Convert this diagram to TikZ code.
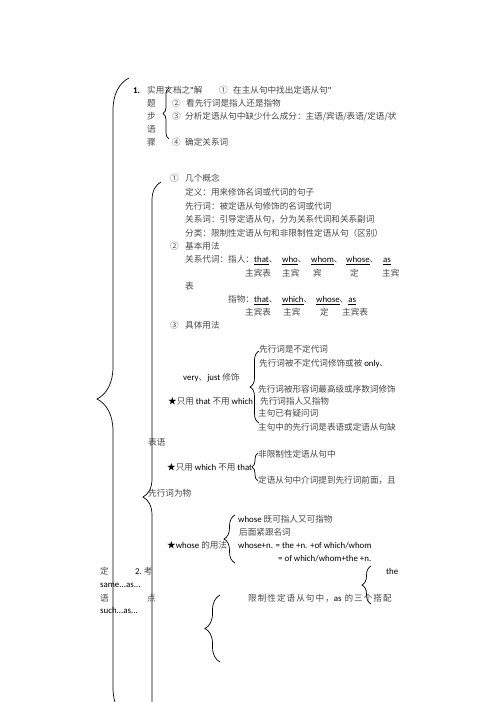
\documentclass[tikz,border=0pt]{standalone}
\usepackage{fontspec}
\setmainfont{Noto Sans CJK SC}
\newfontfamily\lat{Carlito}[Scale=1.03]
\usetikzlibrary{decorations.pathreplacing}
\newcommand\En[1]{{\lat\color{black}#1}}
\newcommand\Bk[1]{{\color{black}#1}}
\begin{document}
\begin{tikzpicture}[x=1pt,y=-1pt,
  t/.style={inner sep=0pt, anchor=base west, yshift=-3.3pt, font=\fontsize{8.6}{10}\selectfont, text=black!72},
  br/.style={decorate, decoration={brace, amplitude=#1}, line width=0.7pt, draw=black}]
\useasboundingbox (0,0) rectangle (496,702);
\clip (0,0) rectangle (496,702);
% braces
\coordinate (o1) at (129,720); \coordinate (o2) at (129,78);
\draw[br=32] (o1) -- (o2);
\coordinate (i1) at (161,812); \coordinate (i2) at (161,182);
\draw[br=18] (i1) -- (i2);
\coordinate (b1a) at (169,139); \coordinate (b1b) at (169,88);
\draw[br=6] (b1a) -- (b1b);
\coordinate (b2a) at (259,423); \coordinate (b2b) at (259,351);
\draw[br=9] (b2a) -- (b2b);
\coordinate (b3a) at (258,481); \coordinate (b3b) at (258,453);
\draw[br=6] (b3a) -- (b3b);
\coordinate (b4a) at (235,563); \coordinate (b4b) at (235,515);
\draw[br=11] (b4a) -- (b4b);
\coordinate (b5a) at (371,604); \coordinate (b5b) at (371,566);
\draw[br=9] (b5a) -- (b5b);
\coordinate (b6a) at (220,662); \coordinate (b6b) at (220,595);
\draw[br=15] (b6a) -- (b6b);
% section 1
\node[t] (n1) at (133,90) {\En{\textbf{1.}}};
\node[t] (n1a) at (147,90) {实用文档之\En{"}解};
\node[t] (n1b) at (219,90) {①};
\node[t] (n1c) at (233,90) {在主从句中找出定语从句\En{"}};
\node[t] (n2) at (147,103) {题};
\node[t] (n2a) at (172,103) {②};
\node[t] (n2b) at (186,103) {看先行词是指人还是指物};
\node[t] (n3) at (147,116) {步};
\node[t] (n3a) at (172,116) {③};
\node[t] (n3b) at (185,116) {分析定语从句中缺少什么成分：主语/宾语/表语/定语/状};
\node[t] (n4) at (147,129) {语};
\node[t] (n5) at (147,142) {骤};
\node[t] (n5a) at (172,142) {④};
\node[t] (n5b) at (185,142) {确定关系词};
% section 2
\node[t] (m1) at (170,178) {①};
\node[t] (m1a) at (185,178) {几个概念};
\node[t] (m2) at (185,192) {定义：用来修饰名词或代词的句子};
\node[t] (m3) at (185,206) {先行词：被定语从句修饰的名词或代词};
\node[t] (m4) at (185,219) {关系词：引导定语从句，分为关系代词和关系副词};
\node[t] (m5) at (185,233) {分类：限制性定语从句和非限制性定语从句（区别）};
\node[t] (m6) at (170,246) {②};
\node[t] (m6a) at (185,246) {基本用法};
\node[t] (m7) at (185,259) {关系代词：指人：};
\node[t] (m7a) at (254,259) {\En{\underline{that}}、};
\node[t] (m7b) at (282,259) {\En{\underline{who}}、};
\node[t] (m7c) at (311,259) {\En{\underline{whom}}、};
\node[t] (m7d) at (346,259) {\En{\underline{whose}}、};
\node[t] (m7e) at (383,259) {\En{\underline{as}}};
\node[t] (m8a) at (245,273) {主宾表};
\node[t] (m8b) at (282,273) {主宾};
\node[t] (m8c) at (313,273) {宾};
\node[t] (m8d) at (350,273) {定};
\node[t] (m8e) at (382,273) {主宾};
\node[t] (m9) at (185,286) {表};
\node[t] (m10) at (228,299) {指物：};
\node[t] (m10a) at (254,299) {\En{\underline{that}}、};
\node[t] (m10b) at (282,299) {\En{\underline{which}}、};
\node[t] (m10c) at (316,299) {\En{\underline{whose}}、\En{\underline{as}}};
\node[t] (m11a) at (245,312) {主宾表};
\node[t] (m11b) at (283,312) {主宾};
\node[t] (m11c) at (320,312) {定};
\node[t] (m11d) at (342,312) {主宾表};
\node[t] (m12) at (170,325) {③};
\node[t] (m12a) at (185,325) {具体用法};
% section 3
\node[t] (p1) at (259,349) {先行词是不定代词};
\node[t] (p2) at (259,363) {先行词被不定代词修饰或被\ \En{only}、};
\node[t] (p3) at (183,377) {\En{very}、\En{just} 修饰};
\node[t] (p4) at (258,389) {先行词被形容词最高级或序数词修饰};
\node[t] (p5) at (168,401) {\Bk{★}只用 \En{that} 不用 \En{which}};
\node[t] (p6) at (260,401) {先行词指人又指物};
\node[t] (p7) at (258,413) {主句已有疑问词};
\node[t] (p8) at (258,427) {主句中的先行词是表语或定语从句缺};
\node[t] (p9) at (148,442) {表语};
\node[t] (p10) at (258,454) {非限制性定语从句中};
\node[t] (p11) at (167,467) {\Bk{★}只用 \En{which} 不用 \En{that}};
\node[t] (p12) at (258,480) {定语从句中介词提到先行词前面，且};
\node[t] (p13) at (148,493) {先行词为物};
\node[t] (q1) at (238,519) {\En{whose} 既可指人又可指物};
\node[t] (q2) at (239,532) {后面紧跟名词};
\node[t] (q3) at (167,545) {\Bk{★}\En{whose} 的用法};
\node[t] (q4) at (238,545) {\En{whose+n. = the +n. +of which/whom}};
\node[t] (q5) at (278,558) {\En{= of which/whom+the +n.}};
\node[t] (r1) at (100,571) {定};
\node[t] (r2) at (135,571) {\En{2.}\ 考};
\node[t] (r3) at (386,571) {\En{the}};
\node[t] (r4) at (100,584) {\En{same...as...}};
\node[t] (r5) at (100,598) {语};
\node[t] (r6) at (147,598) {点};
\node[t] (r7) at (248,598) {\addfontfeature{LetterSpace=12}限制性定语从句中，\En{as} 的三个搭配};
\node[t] (r8) at (100,610) {\En{such...as...}};
\end{tikzpicture}
\end{document}
